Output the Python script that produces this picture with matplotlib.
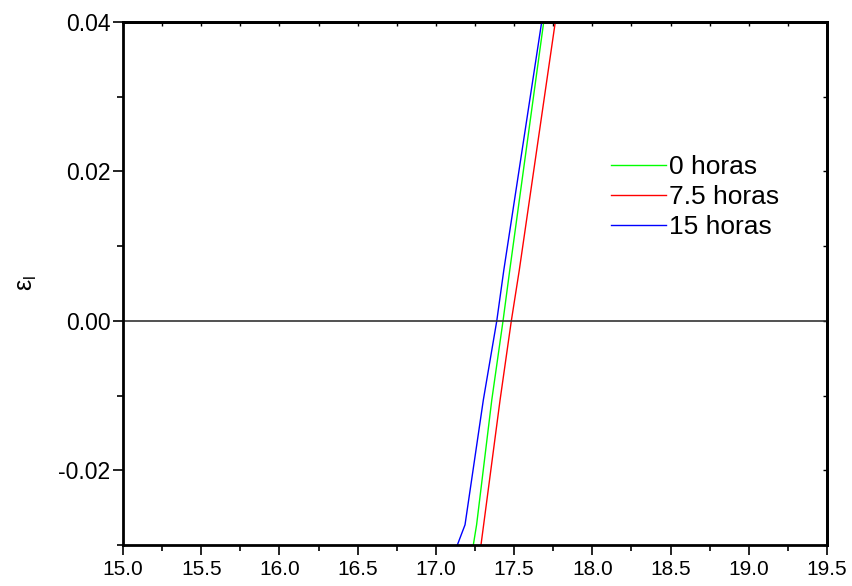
import numpy as np
import matplotlib.pyplot as plt
from matplotlib.ticker import MultipleLocator

plt.rcParams['font.family'] = ['Liberation Sans', 'DejaVu Sans']
plt.rcParams['mathtext.fontset'] = 'custom'
plt.rcParams['mathtext.rm'] = 'Liberation Sans'
plt.rcParams['mathtext.it'] = 'Liberation Sans:italic'

# strain values (y) and position (x)
strain = [-0.030, -0.0273, -0.0106, 0.0, 0.0068, 0.040]
x_0h = [17.239, 17.260, 17.357, 17.429, 17.472, 17.689]
x_75h = [17.288, 17.305, 17.410, 17.482, 17.533, 17.763]
x_15h = [17.137, 17.186, 17.303, 17.389, 17.434, 17.676]

labels = ['0 horas', '7.5 horas', '15 horas']
colors = ['#00ff00', '#ff0000', '#0000ff']

fig = plt.figure(figsize=(8.52, 5.86), dpi=100)
ax = fig.add_axes([0.1444, 0.070, 0.8263, 0.8925])

for xs, lab, c in zip([x_0h, x_75h, x_15h], labels, colors):
    ax.plot(xs, strain, color=c, linewidth=1.0, label=lab)
ax.axhline(0, color='#333333', linewidth=1.2)

ax.set_xlim(15.0, 19.5)
ax.set_ylim(-0.03, 0.04)
ax.xaxis.set_major_locator(MultipleLocator(0.5))
ax.xaxis.set_minor_locator(MultipleLocator(0.25))
ax.yaxis.set_major_locator(MultipleLocator(0.02))
ax.yaxis.set_minor_locator(MultipleLocator(0.01))
ax.xaxis.set_major_formatter(plt.FormatStrFormatter('%.1f'))
ax.yaxis.set_major_formatter(plt.FormatStrFormatter('%.2f'))
ax.tick_params(which='major', direction='out', length=7, width=1.2)
ax.tick_params(which='minor', direction='out', length=4, width=1.2)
ax.tick_params(axis='x', labelsize=15)
ax.tick_params(axis='y', labelsize=16.5, pad=2)
for s in ax.spines.values():
    s.set_linewidth(2)

top = ax.secondary_xaxis('top')
top.xaxis.set_major_locator(MultipleLocator(0.5))
top.xaxis.set_minor_locator(MultipleLocator(0.25))
top.tick_params(which='both', direction='in', length=3, width=1, labeltop=False)
top.spines['top'].set_linewidth(2)
right = ax.secondary_yaxis('right')
right.yaxis.set_major_locator(MultipleLocator(0.02))
right.yaxis.set_minor_locator(MultipleLocator(0.01))
right.tick_params(which='both', direction='in', length=3, width=1, labelright=False)
right.spines['right'].set_linewidth(2)

ax.set_ylabel(r'ε$_\mathrm{l}$', fontsize=18, labelpad=14)

ax.legend(loc='upper left', bbox_to_anchor=(0.678, 0.765), frameon=False,
          fontsize=19, handlelength=2.1, handletextpad=0.1, labelspacing=0.22,
          borderaxespad=0)

fig.savefig('out.png', dpi=100)
